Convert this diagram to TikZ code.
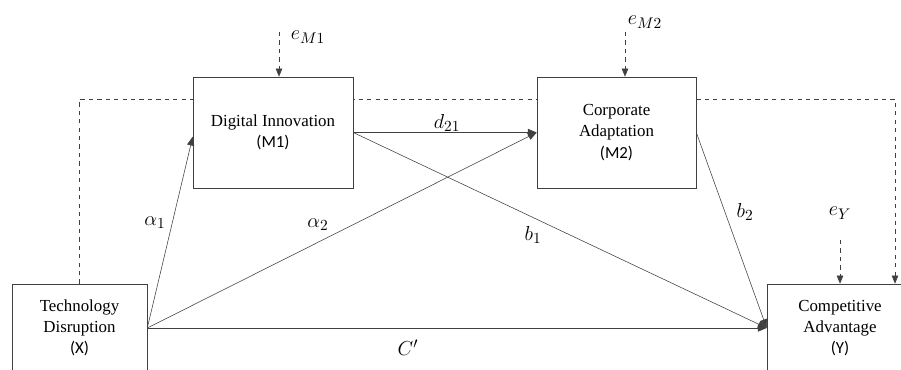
\documentclass[tikz,border=0pt]{standalone}
\usepackage{fontspec}
\setmainfont{Liberation Serif}
\newfontfamily\tagfont{Carlito}
\usetikzlibrary{arrows.meta, positioning, backgrounds}

\begin{document}
\begin{tikzpicture}[x=0.025cm, y=-0.025cm,
    box/.style={draw=black!75, fill=white, align=center, inner sep=0pt, font=\fontsize{12}{15}\selectfont},
    effect/.style={draw=black!75, -{Triangle[length=2.2mm, width=1.8mm]}},
    err/.style={draw=black!75, dashed, -{Triangle[length=2mm, width=1.6mm]}},
    lbl/.style={font=\fontsize{15}{17}\selectfont}]
    \useasboundingbox (0,0) rectangle (901,369);
    \clip (0,0) rectangle (901,369);

    % Variable boxes
    \node[box, minimum width=3.375cm, minimum height=2.2cm] (X) at (79.5,328) {Technology\\Disruption\\{\tagfont(X)}};
    \node[box, minimum width=3.65cm, minimum height=2.2cm] (Y) at (840,328) {Competitive\\Advantage\\{\tagfont(Y)}};
    \node[box, minimum width=4cm, minimum height=2.775cm] (M1) at (273,132.5) {Digital Innovation\\{\tagfont(M1)}};
    \node[box, minimum width=3.975cm, minimum height=2.775cm] (M2) at (616.5,132.5) {Corporate\\Adaptation\\{\tagfont(M2)}};

    % Direct path behind the boxes
    \coordinate (corner) at (895,99);
    \begin{scope}[on background layer]
        \draw[err] (X.north) |- (corner) -- (corner |- Y.north);
    \end{scope}

    % Error terms
    \foreach \v/\x/\y/\lx/\ly in {M1/279/32/308/37, M2/625/32/645/22, Y/840/240/840/213} {
        \coordinate (e\v) at (\x,\y);
        \draw[err] (e\v) -- (e\v |- \v.north);
        \node[lbl] (l\v) at (\lx,\ly) {$e_{\v}$};
    }

    % Paths
    \draw[effect] (X.east) -- (M1.183);
    \draw[effect] (X.east) -- (M2.west);
    \draw[effect] (M1.east) -- (M2.west);
    \draw[effect] (M1.east) -- (Y.west);
    \draw[effect] (M2.east) -- (Y.west);
    \draw[effect] (X.east) -- (Y.west);

    % Coefficients
    \node[lbl] (a1) at (155,223) {$\alpha_1$};
    \node[lbl] (a2) at (318,225) {$\alpha_2$};
    \node[lbl] (d21) at (447,123) {$d_{21}$};
    \node[lbl] (b1) at (533,235) {$b_1$};
    \node[lbl] (b2) at (745,212) {$b_2$};
    \node[lbl] (c) at (408,348) {$C'$};
\end{tikzpicture}
\end{document}
